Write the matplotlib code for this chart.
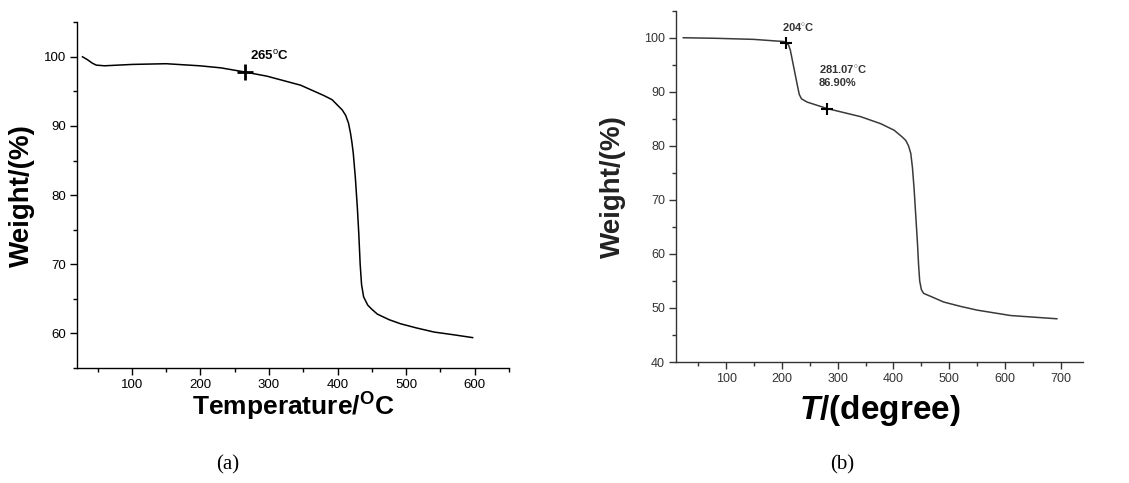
import matplotlib
import matplotlib.pyplot as plt

matplotlib.use("Agg")

plt.rcParams["font.family"] = ["Liberation Sans", "DejaVu Sans"]
plt.rcParams["mathtext.fontset"] = "custom"
plt.rcParams["mathtext.rm"] = "Liberation Sans"
plt.rcParams["mathtext.bf"] = "Liberation Sans:bold"
plt.rcParams["mathtext.it"] = "Liberation Sans:italic:bold"

# panel (a) TGA curve
temp_a = [28, 35, 42, 48, 60, 101, 150, 199, 230, 265, 297, 346, 380, 392, 400, 407, 412, 416,
          419, 421, 423, 426, 429, 431, 433, 435, 438, 444, 450, 458, 475, 492, 515, 541, 570, 597]
weight_a = [100.0, 99.6, 99.1, 98.8, 98.7, 98.9, 99.0, 98.7, 98.4, 97.8, 97.2, 95.9, 94.4, 93.8,
            93.0, 92.3, 91.5, 90.4, 88.9, 87.6, 86.0, 82.5, 78.0, 74.4, 70.0, 67.1, 65.3, 64.1,
            63.5, 62.8, 62.0, 61.4, 60.8, 60.2, 59.8, 59.4]
mark_a = (265, 97.8)

# panel (b) TGA curve
temp_b = [23, 80, 149, 203, 209, 212, 215, 221, 227, 231, 235, 245, 281, 341, 377, 401, 415,
          422, 427, 431, 434, 437, 440, 443, 445, 447, 450, 454, 470, 490, 520, 550, 610, 693]
weight_b = [100.0, 99.9, 99.7, 99.3, 99.0, 98.6, 97.7, 94.6, 91.5, 89.5, 88.7, 88.1, 86.9, 85.4,
            84.1, 82.9, 81.7, 81.0, 80.0, 78.6, 76.0, 72.0, 67.0, 62.0, 58.0, 55.0, 53.4, 52.7,
            52.0, 51.1, 50.3, 49.6, 48.6, 48.0]
marks_b = [(208, 99.0), (281.07, 86.90)]

fig = plt.figure(figsize=(11.29, 4.83), dpi=100)


def style_axes(ax, col, fs):
    for s in ["top", "right"]:
        ax.spines[s].set_visible(False)
    for s in ["left", "bottom"]:
        ax.spines[s].set_color(col)
        ax.spines[s].set_linewidth(1.0)
    ax.tick_params(which="major", direction="out", length=5, width=1, colors=col, labelsize=fs, pad=3)
    ax.tick_params(which="minor", direction="out", length=3, width=1, colors=col)


ax1 = fig.add_axes([0.0682, 0.238, 0.3826, 0.716])
ax1.plot(temp_a, weight_a, color="black", lw=1.1)
ax1.plot(*mark_a, marker="+", color="black", ms=11, mew=2)
ax1.text(272, 99.6, r"265$^{\mathrm{o}}$C", fontsize=9.5, fontweight="bold")
ax1.set_xlim(20, 650)
ax1.set_ylim(55, 105)
ax1.set_xticks([100, 200, 300, 400, 500, 600])
ax1.set_yticks([60, 70, 80, 90, 100])
ax1.set_xticks(range(50, 651, 100), minor=True)
ax1.set_yticks(range(55, 106, 10), minor=True)
style_axes(ax1, "black", 9.5)
ax1.set_xlabel(r"Temperature/$^{\mathbf{O}}$C", fontsize=19, fontweight="bold", labelpad=0)
ax1.set_ylabel("Weight/(%)", fontsize=20, fontweight="bold", labelpad=6)

ax2 = fig.add_axes([0.5988, 0.2505, 0.3605, 0.7273])
ax2.plot(temp_b, weight_b, color="#3a3a3a", lw=1.1)
for tx, wy in marks_b:
    ax2.plot(tx, wy, marker="+", color="black", ms=8, mew=1.5)
ax2.text(200, 101.2, r"204$^{\circ}$C", fontsize=8, fontweight="bold", color="#333333")
ax2.text(266, 91.0, "281.07$^{\\circ}$C\n86.90%", fontsize=8, fontweight="bold",
         color="#333333", linespacing=1.4)
ax2.set_xlim(10, 740)
ax2.set_ylim(40, 105)
ax2.set_xticks([100, 200, 300, 400, 500, 600, 700])
ax2.set_yticks([40, 50, 60, 70, 80, 90, 100])
ax2.set_xticks(range(50, 741, 100), minor=True)
ax2.set_yticks(range(45, 106, 10), minor=True)
style_axes(ax2, "#333333", 9)
ax2.set_xlabel(r"$T$/(degree)", fontsize=24, fontweight="bold", labelpad=6)
ax2.set_ylabel("Weight/(%)", fontsize=20, fontweight="bold", labelpad=13, color="#222222")

fig.text(0.202, 0.027, "(a)", fontsize=15, family=["Liberation Serif"], ha="center")
fig.text(0.746, 0.027, "(b)", fontsize=15, family=["Liberation Serif"], ha="center")

fig.savefig("out.png", dpi=100)
